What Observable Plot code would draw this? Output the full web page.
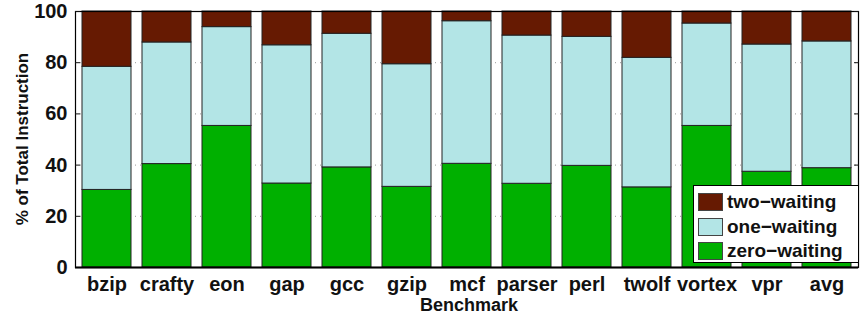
<!DOCTYPE html>
<html>
<head>
<meta charset="utf-8">
<script src="https://cdn.jsdelivr.net/npm/d3@7"></script>
<script src="https://cdn.jsdelivr.net/npm/@observablehq/plot@0.6"></script>
<style>
  html, body { margin: 0; padding: 0; background: #fff; }
  #wrap { position: relative; width: 862px; height: 315px; font-family: "Liberation Sans", Arial, sans-serif; }
  #legend { position: absolute; left: 693px; top: 185px; width: 166px; height: 78px; border: 1px solid #000; background: #fff; box-sizing: border-box; padding: 4px 0 0 4px; }
  .row { display: flex; align-items: center; height: 24.5px; font-weight: bold; font-size: 19px; color: #111; }
  .sw { width: 25px; height: 18px; border: 1px solid #444; box-sizing: border-box; margin-right: 4px; }
</style>
</head>
<body>
<div id="wrap"></div>
<script>
const benchmarks = ["bzip","crafty","eon","gap","gcc","gzip","mcf","parser","perl","twolf","vortex","vpr","avg"];
const zeroWaiting = [30.3, 40.4, 55.3, 32.8, 39.1, 31.5, 40.5, 32.7, 39.7, 31.3, 55.3, 37.4, 38.8];
const oneWaiting  = [48.1, 47.5, 38.6, 54.0, 52.2, 47.9, 55.7, 57.9, 50.4, 50.6, 40.0, 49.7, 49.5];
const twoWaiting  = [21.6, 12.1, 6.1, 13.2, 8.7, 20.6, 3.8, 9.4, 9.9, 18.1, 4.7, 12.9, 11.7];
const seriesNames = ["zero-waiting", "one-waiting", "two-waiting"];
const seriesColors = ["#00b000", "#b3e5e6", "#661a02"];
const yTicks = [0, 20, 40, 60, 80, 100];
const gridTicks = [20, 40, 60, 80];

const series = [zeroWaiting, oneWaiting, twoWaiting];
const data = [];
benchmarks.forEach((b, i) => {
  seriesNames.forEach((s, j) => data.push({bench: b, type: s, value: series[j][i]}));
});

const chart = Plot.plot({
  width: 862,
  height: 315,
  marginLeft: 75,
  marginRight: 4,
  marginTop: 11,
  marginBottom: 48,
  style: {fontFamily: "Liberation Sans, Arial, sans-serif", fontWeight: "bold", fontSize: "19px", color: "#111", background: "#fff"},
  x: {domain: benchmarks, paddingInner: 0.19, paddingOuter: 0.05, label: null},
  y: {domain: [0, 100], label: null},
  color: {domain: seriesNames, range: seriesColors},
  marks: [
    Plot.ruleY(gridTicks, {stroke: "#999", strokeDasharray: "1,4"}),
    Plot.barY(data, {x: "bench", y: "value", fill: "type", z: "type", order: seriesNames, stroke: "#222", strokeWidth: 1, inset: 0}),
    Plot.frame({stroke: "#000", strokeWidth: 1.2}),
    Plot.axisY({anchor: "left", ticks: yTicks, tickSize: -5, tickPadding: 13, fontSize: 20, fontWeight: "bold", label: null}),
    Plot.axisY({anchor: "right", ticks: yTicks, tickSize: -5, tickFormat: () => "", label: null}),
    Plot.axisX({anchor: "bottom", tickSize: 0, tickPadding: 9, fontSize: 20, fontWeight: "bold", label: null}),
    Plot.ruleY([0], {stroke: "#000", strokeWidth: 2})
  ]
});
const wrap = document.getElementById("wrap");
wrap.appendChild(chart);

const title = document.createElementNS("http://www.w3.org/2000/svg", "text");
title.setAttribute("x", 469); title.setAttribute("y", 311);
title.setAttribute("text-anchor", "middle");
title.setAttribute("font-size", "18"); title.setAttribute("font-weight", "bold");
title.setAttribute("fill", "#111");
title.textContent = "Benchmark";
chart.appendChild(title);

const ytitle = document.createElementNS("http://www.w3.org/2000/svg", "text");
ytitle.setAttribute("transform", "translate(28,139) rotate(-90)");
ytitle.setAttribute("text-anchor", "middle");
ytitle.setAttribute("font-size", "17"); ytitle.setAttribute("font-weight", "bold");
ytitle.setAttribute("fill", "#111");
ytitle.textContent = "% of Total Instruction";
chart.appendChild(ytitle);

const legend = document.createElement("div");
legend.id = "legend";
[2, 1, 0].forEach(j => {
  const row = document.createElement("div");
  row.className = "row";
  const sw = document.createElement("div");
  sw.className = "sw";
  sw.style.background = seriesColors[j];
  row.appendChild(sw);
  const t = document.createElement("span");
  t.textContent = seriesNames[j].replace("-", "\u2212");
  row.appendChild(t);
  legend.appendChild(row);
});
wrap.appendChild(legend);
</script>
</body>
</html>
